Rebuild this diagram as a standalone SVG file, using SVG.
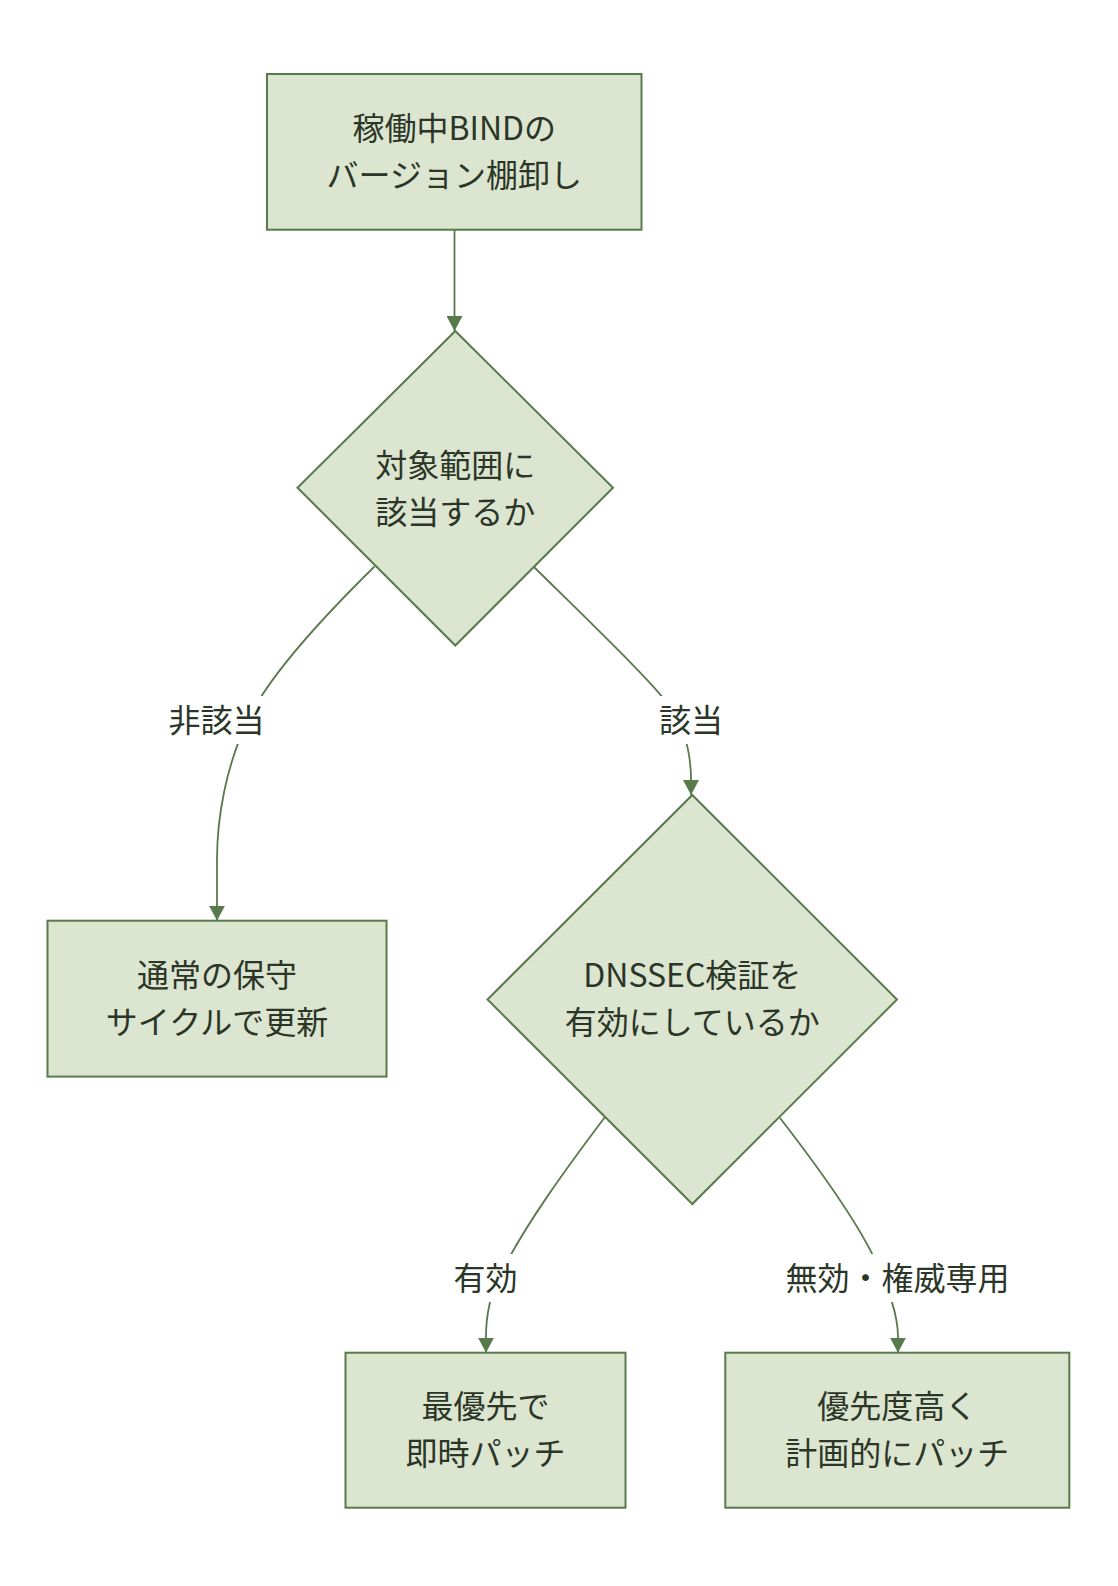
<svg xmlns="http://www.w3.org/2000/svg" width="1118" height="1586" viewBox="0 0 1118 1586">
<style>
.node{fill:#dce5cf;stroke:#587a4b;stroke-width:2}
.t{font-family:"Noto Sans CJK JP","Noto Sans",sans-serif;font-size:32px;fill:#2b3628;text-anchor:middle;dominant-baseline:central}
.edge{fill:none;stroke:#587a4b;stroke-width:1.8}
.lbg{fill:#ffffff;stroke:none}
</style>
<defs>
<marker id="arr" markerUnits="userSpaceOnUse" viewBox="0 0 15 16" markerWidth="15" markerHeight="16" refX="15" refY="8" orient="auto">
<path d="M0,0 L15,8 L0,16 z" fill="#587a4b"/>
</marker>
</defs>
<rect width="1118" height="1586" fill="#ffffff"/>
<g id="edges">
<path class="edge" d="M454.5,229.7 L454.5,331" marker-end="url(#arr)"/>
<path class="edge" d="M374.5,566.5 C310,630 268,680 250,716 C225,766 217,820 217,860 L217,920.7" marker-end="url(#arr)"/>
<path class="edge" d="M534,567 C600,632 650,680 668,704 C684,726 691,750 691,780 L691,795" marker-end="url(#arr)"/>
<path class="edge" d="M605,1117 C565,1170 525,1225 500,1275 C490,1295 486,1315 486,1337 L486,1352.7" marker-end="url(#arr)"/>
<path class="edge" d="M780,1118 C825,1176 860,1226 877,1264 C889,1291 898,1315 898,1337 L898,1352.7" marker-end="url(#arr)"/>
<rect class="lbg" x="166" y="696" width="101" height="48"/>
<text class="t" x="216.5" y="717.5">非該当</text>
<rect class="lbg" x="657" y="696" width="68" height="48"/>
<text class="t" x="691" y="717.5">該当</text>
<rect class="lbg" x="450" y="1254" width="72" height="48"/>
<text class="t" x="485.6" y="1275.5">有効</text>
<rect class="lbg" x="783" y="1254" width="229" height="48"/>
<text class="t" x="897.5" y="1275.5">無効・権威専用</text>
</g>
<g id="inventory">
<rect class="node" x="267" y="74" width="374.5" height="155.7"/>
<text class="t" x="454.3" y="125.8">稼働中BINDの</text>
<text class="t" x="454.3" y="172.8">バージョン棚卸し</text>
</g>
<g id="scope">
<polygon class="node" points="455.3,331 613,487.7 455.3,645.5 297.5,487.7"/>
<text class="t" x="455.3" y="462.5">対象範囲に</text>
<text class="t" x="455.3" y="509.5">該当するか</text>
</g>
<g id="normal">
<rect class="node" x="47.5" y="920.7" width="339" height="155.9"/>
<text class="t" x="217" y="972.7">通常の保守</text>
<text class="t" x="217" y="1019.7">サイクルで更新</text>
</g>
<g id="dnssec">
<polygon class="node" points="692.3,795 897,999.5 692.3,1204 487.5,999.5"/>
<text class="t" x="692.3" y="973.3">DNSSEC検証を</text>
<text class="t" x="692.3" y="1020.3">有効にしているか</text>
</g>
<g id="urgent">
<rect class="node" x="345.5" y="1352.7" width="280" height="155"/>
<text class="t" x="485.6" y="1404">最優先で</text>
<text class="t" x="485.6" y="1451">即時パッチ</text>
</g>
<g id="planned">
<rect class="node" x="725.3" y="1352.7" width="344" height="155"/>
<text class="t" x="897.3" y="1404">優先度高く</text>
<text class="t" x="897.3" y="1451">計画的にパッチ</text>
</g>
</svg>
